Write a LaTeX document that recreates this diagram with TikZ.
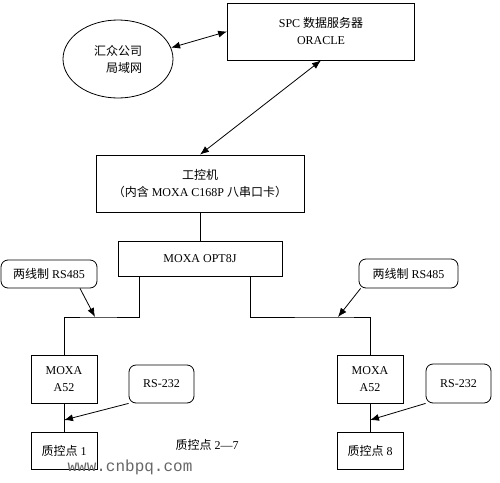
\documentclass[tikz,border=0pt]{standalone}
\usepackage{fontspec}
\setmainfont{Liberation Serif}
\newfontfamily\zhfont{Noto Sans CJK SC}
\newfontfamily\wmfont{Liberation Mono}
\usetikzlibrary{arrows.meta,shapes.geometric,calc}

\tikzset{
  box/.style={draw, line width=0.8pt, inner sep=0pt, align=center},
  tag/.style={box, rounded corners=7pt},
  wire/.style={line width=0.8pt},
  tip/.style={wire, -{Latex[length=9pt,width=7pt]}},
  twotip/.style={wire, {Latex[length=9pt,width=7pt]}-{Latex[length=9pt,width=7pt]}},
}

\begin{document}
\begin{tikzpicture}[x=1pt,y=-1pt,font=\fontsize{12}{17}\selectfont]
  \useasboundingbox (0,0) rectangle (500,482);
  % servers
  \node[ellipse, box, minimum width=110pt, minimum height=78pt, align=right] (lan) at (118,59) {{\zhfont 汇众公司}\\{\zhfont 局域网}};
  \node[box, minimum width=187pt, minimum height=57pt] (spc) at (321,31.5) {SPC {\zhfont 数据服务器}\\ORACLE};
  \node[box, minimum width=208pt, minimum height=57pt] (ipc) at (200,183.5) {{\zhfont 工控机}\\{\zhfont （内含} MOXA C168P {\zhfont 八串口卡）}};
  \node[box, minimum width=164pt, minimum height=35pt] (opt) at (200,258.5) {MOXA OPT8J};
  % stations
  \node[box, minimum width=66pt, minimum height=48pt] (a52l) at (64,379) {MOXA\\A52};
  \node[box, minimum width=66pt, minimum height=48pt] (a52r) at (370,379) {MOXA\\A52};
  \node[box, minimum width=66pt, minimum height=37pt] (qc1) at (64,450.5) {{\zhfont 质控点} 1};
  \node[box, minimum width=66pt, minimum height=37pt] (qc8) at (370,450.5) {{\zhfont 质控点} 8};
  \node (qcmid) at (207,445) {{\zhfont 质控点} 2—7};
  % bus labels
  \node[tag, minimum width=96pt, minimum height=28pt] (rs485l) at (49,274) {{\zhfont 两线制} RS485};
  \node[tag, minimum width=99pt, minimum height=29pt] (rs485r) at (408.5,273.5) {{\zhfont 两线制} RS485};
  \node[tag, minimum width=65pt, minimum height=38pt] (rs232l) at (161.5,384) {RS-232};
  \node[tag, minimum width=65pt, minimum height=39pt] (rs232r) at (458.5,383.5) {RS-232};
  % links
  \draw[twotip] (lan.12) -- (spc.west);
  \draw[twotip] (spc.south) -- (ipc.north);
  \draw[wire] (ipc.south) -- (opt.north);
  \coordinate (busl) at (95,317);
  \coordinate (busr) at (338,317);
  \draw[wire] ([xshift=22pt]opt.south west) |- (busl) -| (a52l.north);
  \draw[wire] ([xshift=-32pt]opt.south east) |- (busr) -| (a52r.north);
  \draw[wire] (a52l) -- (qc1);
  \draw[wire] (a52r) -- (qc8);
  \draw[tip] ([xshift=31pt]rs485l.south) -- (busl);
  \draw[tip] ([xshift=2pt]rs485r.south west) -- (busr);
  \draw[tip] (rs232l.south west) -- ($(a52l.south)!0.59!(qc1.north)$);
  \draw[tip] (rs232r.south west) -- ($(a52r.south)!0.59!(qc8.north)$);
  % watermark
  \node[font=\fontsize{16}{16}\wmfont, text=black!60] (mark) at (130,467) {www.cnbpq.com};
\end{tikzpicture}
\end{document}
